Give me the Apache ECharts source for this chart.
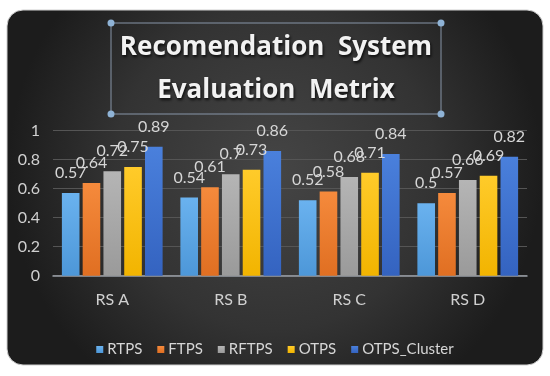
<!DOCTYPE html>
<html><head><meta charset="utf-8">
<script src="https://cdn.jsdelivr.net/npm/echarts@6/dist/echarts.min.js"></script>
<style>html,body{margin:0;padding:0;background:#fff}#c{width:550px;height:376px}</style>
</head><body><div id="c"></div>
<script>
var categories = ['RS A', 'RS B', 'RS C', 'RS D'];
var seriesNames = ['RTPS', 'FTPS', 'RFTPS', 'OTPS', 'OTPS_Cluster'];
var RTPS = [0.57, 0.54, 0.52, 0.50];
var FTPS = [0.64, 0.61, 0.58, 0.57];
var RFTPS = [0.72, 0.70, 0.68, 0.66];
var OTPS = [0.75, 0.73, 0.71, 0.69];
var OTPS_Cluster = [0.89, 0.86, 0.84, 0.82];
var yTicks = [0, 0.2, 0.4, 0.6, 0.8, 1];
var titleLines = ['Recomendation  System', 'Evaluation  Metrix'];

var seriesData = [RTPS, FTPS, RFTPS, OTPS, OTPS_Cluster];
var colorsTop = ['#6ab2ef', '#f58a3c', '#b5b5b5', '#ffcb2a', '#4a80dc'];
var colorsBot = ['#4d97d8', '#e06f22', '#9a9a9a', '#f2b400', '#3463c0'];
var legendColors = ['#5b9bd5', '#ed7d31', '#a5a5a5', '#ffc000', '#4472c4'];
var font = "'Liberation Sans Narrow', Lato, sans-serif";

var chart = echarts.init(document.getElementById('c'), null, {renderer: 'canvas'});
var series = seriesNames.map(function (n, i) {
  return {
    name: n, type: 'bar', data: seriesData[i],
    barCategoryGap: '15%', barGap: '18%',
    itemStyle: {color: new echarts.graphic.LinearGradient(0, 0, 0, 1, [
      {offset: 0, color: colorsTop[i]}, {offset: 1, color: colorsBot[i]}])},
    label: {show: true, position: 'top', distance: 12, color: '#d6d6d6',
      fontSize: 16, fontFamily: font,
      formatter: function (p) { return String(p.value); }}
  };
});
var titleStyle = {fill: '#f2f2f2', fontSize: 26, fontWeight: 'bold', fontFamily: "'Open Sans', sans-serif",
  align: 'center', verticalAlign: 'middle',
  textShadowColor: 'rgba(0,0,0,0.8)', textShadowBlur: 3, textShadowOffsetX: 1, textShadowOffsetY: 2};
chart.setOption({
  backgroundColor: '#ffffff',
  color: legendColors,
  graphic: [
    {type: 'rect', z: -10, shape: {x: 7, y: 10, width: 536, height: 355, r: 16},
     style: {fill: new echarts.graphic.RadialGradient(0.5, 0.45, 0.75, [
       {offset: 0, color: '#454545'}, {offset: 0.6, color: '#333333'}, {offset: 1, color: '#1c1c1c'}]),
       stroke: '#cfcfcf', lineWidth: 1}},
    {type: 'rect', z: 5, shape: {x: 111, y: 23, width: 330, height: 91},
     style: {fill: 'none', stroke: '#8795a8', lineWidth: 1}},
    {type: 'circle', z: 6, shape: {cx: 111, cy: 23, r: 3.5}, style: {fill: '#8fb3d6'}},
    {type: 'circle', z: 6, shape: {cx: 441, cy: 23, r: 3.5}, style: {fill: '#8fb3d6'}},
    {type: 'circle', z: 6, shape: {cx: 111, cy: 114, r: 3.5}, style: {fill: '#8fb3d6'}},
    {type: 'circle', z: 6, shape: {cx: 441, cy: 114, r: 3.5}, style: {fill: '#8fb3d6'}},
    {type: 'text', z: 7, x: 276, y: 48, style: Object.assign({text: titleLines[0]}, titleStyle)},
    {type: 'text', z: 7, x: 276, y: 91, style: Object.assign({text: titleLines[1]}, titleStyle)}
  ],
  legend: {
    data: seriesNames, top: 337, left: 'center', icon: 'rect', itemWidth: 7, itemHeight: 7, itemGap: 15,
    textStyle: {color: '#d6d6d6', fontSize: 15, fontFamily: font, padding: [0, 0, 0, -1]}
  },
  grid: {left: 53, right: 23, top: 130.7, bottom: 100.3, containLabel: false},
  xAxis: {
    type: 'category', data: categories,
    axisLine: {lineStyle: {color: '#9aa0a8', width: 1.5}},
    axisTick: {show: false},
    axisLabel: {color: '#d0d0d0', fontSize: 16, fontFamily: font, margin: 16}
  },
  yAxis: {
    type: 'value', min: yTicks[0], max: yTicks[yTicks.length - 1], interval: 0.2,
    axisLine: {show: false}, axisTick: {show: false},
    splitLine: {lineStyle: {color: '#555555', width: 1}},
    axisLabel: {color: '#d0d0d0', fontSize: 16, fontFamily: font, margin: 13}
  },
  series: series
});
</script></body></html>
